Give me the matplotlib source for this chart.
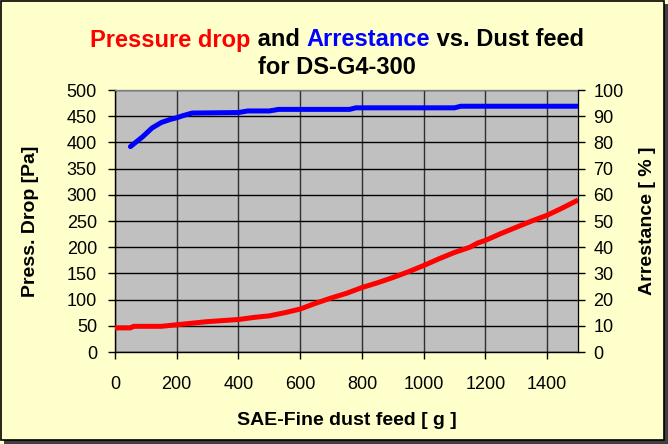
import matplotlib
matplotlib.use("Agg")
import matplotlib.pyplot as plt
from matplotlib.patches import Rectangle

# ---- data ----
dust_pd = [0, 50, 60, 100, 150, 200, 250, 300, 400, 450, 500, 550, 600, 650, 700, 750,
           800, 850, 900, 950, 1000, 1050, 1100, 1150, 1175, 1200, 1250, 1300, 1350,
           1400, 1450, 1500]
pressure_drop = [46, 46, 49, 49, 49, 52, 55, 58, 62, 66, 69, 75, 82, 93, 103, 112,
                 123, 132, 142, 153, 165, 178, 190, 200, 208, 213, 226, 238, 250,
                 261, 275, 290]
dust_ar = [50, 90, 120, 150, 180, 200, 220, 250, 400, 430, 500, 530, 760, 780, 1100,
           1120, 1500]
arrestance = [78.4, 82.2, 85.5, 87.6, 88.8, 89.4, 90.2, 91.2, 91.4, 92.0, 92.0, 92.6,
              92.6, 93.2, 93.2, 93.8, 93.8]
x_ticks = [0, 200, 400, 600, 800, 1000, 1200, 1400]
left_ticks = list(range(0, 501, 50))
right_ticks = list(range(0, 101, 10))

plt.rcParams['font.family'] = ['Liberation Sans', 'DejaVu Sans']

fig = plt.figure(figsize=(6.68, 4.44), dpi=100)
fig.patch.set_facecolor('#FFFFCC')

# outer border with shadow
fig.patches.append(Rectangle((4 / 668, 0), 664 / 668, 440 / 444, transform=fig.transFigure,
                             facecolor='#404040', edgecolor='none', zorder=-2))
fig.patches.append(Rectangle((1 / 668, 4 / 444), 663 / 668, 439 / 444, transform=fig.transFigure,
                             facecolor='#FFFFCC', edgecolor='black', linewidth=1.2, zorder=-1))

ax = fig.add_axes([115 / 668, 1 - 352 / 444, 463 / 668, 262 / 444])
ax.set_facecolor('#C0C0C0')
ax.set_xlim(0, 1500)
ax.set_ylim(0, 500)
ax.set_xticks(x_ticks)
ax.set_yticks(left_ticks)
ax.grid(True, axis='y', color='black', linewidth=1.0)
ax.grid(True, axis='x', color='#303030', linewidth=1.0)
ax.set_axisbelow(True)
for s in ax.spines.values():
    s.set_color('#808080')
    s.set_linewidth(1)
ax.spines['left'].set_color('black')
ax.spines['bottom'].set_color('black')
ax.tick_params(axis='both', direction='out', length=5, width=1, labelsize=13,
               color='black', pad=8)
ax.tick_params(axis='x', pad=12)

ax.plot(dust_pd, pressure_drop, color='#FF0000', linewidth=3.6, solid_capstyle='butt', zorder=3)

ax2 = ax.twinx()
ax2.set_ylim(0, 100)
ax2.set_yticks(right_ticks)
ax2.tick_params(axis='y', direction='out', length=5, width=1, labelsize=13, pad=6)
for s in ax2.spines.values():
    s.set_visible(False)
ax2.spines['right'].set_visible(True)
ax2.spines['right'].set_color('black')
ax2.plot(dust_ar, arrestance, color='#0000FF', linewidth=3.6, solid_capstyle='round', zorder=3)

ax.set_xlabel('SAE-Fine dust feed [ g ]', fontsize=14, fontweight='bold', labelpad=14)
fig.text(31 / 668, 1 - 221 / 444, 'Press. Drop [Pa]', rotation=90, fontsize=14,
         fontweight='bold', ha='center', va='center')
fig.text(648 / 668, 1 - 221 / 444, 'Arrestance [ % ]', rotation=90, fontsize=14,
         fontweight='bold', ha='center', va='center')

# multi-coloured title
parts = [('Pressure drop', '#FF0000'), (' and ', 'black'), ('Arrestance', '#0000FF'),
         (' vs. Dust feed', 'black')]
texts = []
for t, c in parts:
    texts.append(fig.text(0, 1 - 40 / 444, t, color=c, fontsize=17, fontweight='bold',
                          ha='left', va='center'))
fig.canvas.draw()
r = fig.canvas.get_renderer()
widths = [tx.get_window_extent(r).width for tx in texts]
total = sum(widths)
x0 = 337 - total / 2
for tx, w in zip(texts, widths):
    tx.set_x(x0 / 668)
    x0 += w
fig.text(337 / 668, 1 - 67 / 444, 'for DS-G4-300', fontsize=17, fontweight='bold',
         ha='center', va='center')

fig.savefig('out.png', dpi=100, facecolor=fig.get_facecolor())
